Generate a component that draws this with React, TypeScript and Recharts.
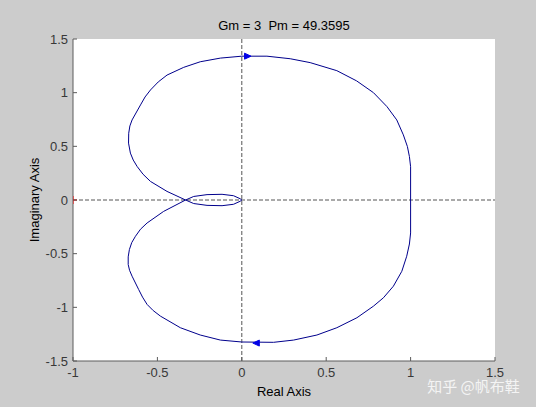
import React from 'react';
import { ComposedChart, Line, Scatter, XAxis, YAxis, ReferenceLine, CartesianGrid } from 'recharts';

// Nyquist path (real / imaginary parts) in drawing order
const pathX = [
  0, -0.01, -0.049, -0.117, -0.206, -0.285, -0.333,
  -0.443, -0.541, -0.585, -0.62, -0.643, -0.66, -0.671, -0.67, -0.663, -0.65, -0.6, -0.573, -0.541, -0.495, -0.443, -0.344, -0.246, -0.127,
  0, 0.149, 0.287, 0.405, 0.563, 0.68, 0.78, 0.86, 0.918, 0.957, 0.981, 0.993, 1.0, 1.0,
  1.0, 0.993, 0.977, 0.948, 0.898, 0.839, 0.78, 0.682, 0.563, 0.445, 0.307, 0.188, 0,
  -0.127, -0.246, -0.364, -0.482, -0.525, -0.561, -0.588, -0.611, -0.65, -0.665, -0.673, -0.673, -0.666, -0.652, -0.63, -0.6, -0.561, -0.463,
  -0.333, -0.285, -0.206, -0.117, -0.049, -0.01, 0,
];
const pathY = [
  0, -0.012, -0.04, -0.053, -0.05, -0.033, 0,
  0.08, 0.173, 0.24, 0.312, 0.372, 0.437, 0.53, 0.622, 0.69, 0.746, 0.886, 0.96, 1.025, 1.1, 1.164, 1.236, 1.288, 1.322,
  1.34, 1.34, 1.316, 1.28, 1.205, 1.11, 1.0, 0.87, 0.746, 0.607, 0.498, 0.405, 0.31, 0,
  -0.307, -0.41, -0.524, -0.664, -0.803, -0.911, -0.989, -1.097, -1.19, -1.258, -1.305, -1.326, -1.323,
  -1.305, -1.258, -1.19, -1.082, -1.03, -0.973, -0.905, -0.834, -0.71, -0.655, -0.601, -0.53, -0.462, -0.397, -0.338, -0.272, -0.214, -0.106,
  0, 0.033, 0.05, 0.053, 0.04, 0.012, 0,
];

const xTicks = [-1, -0.5, 0, 0.5, 1, 1.5];
const yTicks = [-1.5, -1, -0.5, 0, 0.5, 1, 1.5];
const arrowRight = [{ x: 0.034, y: 1.34 }];
const arrowLeft = [{ x: 0.086, y: -1.333 }];
const criticalPoint = [{ x: -1, y: 0 }];
const titleText = 'Gm = 3  Pm = 49.3595';
const xLabel = 'Real Axis';
const yLabel = 'Imaginary Axis';
const watermark = '知乎 @帆布鞋';

const data = pathX.map((x, i) => ({ x, y: pathY[i] }));

const W = 536;
const H = 407;
const FONT = '"Liberation Sans", Arial, sans-serif';
const AXIS = '#5c5c5c';
const TICKTXT = '#383838';
const LINE = '#00008c';
const ARROW = '#0000e6';
const TL = 4;

const fmt = (v: number) => String(v);

const BottomTick = (p: any) => (
  <g>
    <line x1={p.x} y1={p.y} x2={p.x} y2={p.y - TL} stroke={AXIS} />
    <text x={p.x} y={p.y + 15.5} textAnchor="middle" fontSize={13} fill={TICKTXT} fontFamily={FONT}>
      {fmt(p.payload.value)}
    </text>
  </g>
);
const TopTick = (p: any) => (
  <line x1={p.x} y1={p.y} x2={p.x} y2={p.y + TL} stroke={AXIS} />
);
const LeftTick = (p: any) => (
  <g>
    <line x1={p.x} y1={p.y} x2={p.x + TL} y2={p.y} stroke={AXIS} />
    <text x={p.x - 5} y={p.y + 4.5} textAnchor="end" fontSize={13} fill={TICKTXT} fontFamily={FONT}>
      {fmt(p.payload.value)}
    </text>
  </g>
);
const RightTick = (p: any) => (
  <line x1={p.x} y1={p.y} x2={p.x - TL} y2={p.y} stroke={AXIS} />
);

const RightArrow = (p: any) => (
  <polygon points={`${p.cx - 3},${p.cy - 3} ${p.cx + 3.5},${p.cy} ${p.cx - 3},${p.cy + 3}`} fill={ARROW} stroke={ARROW} />
);
const LeftArrow = (p: any) => (
  <polygon points={`${p.cx + 3},${p.cy - 3} ${p.cx - 3.5},${p.cy} ${p.cx + 3},${p.cy + 3}`} fill={ARROW} stroke={ARROW} />
);
const RedPlus = (p: any) => (
  <g stroke="#ff0000" strokeWidth={1}>
    <line x1={p.cx - 4} y1={p.cy} x2={p.cx + 4} y2={p.cy} />
    <line x1={p.cx} y1={p.cy - 4} x2={p.cx} y2={p.cy + 4} />
  </g>
);

export default function App() {
  return (
    <div style={{ position: 'absolute', left: 0, top: 0, width: W, height: H, background: '#cccccc' }}>
      <ComposedChart width={W} height={H} data={data} margin={{ top: 39, right: 41, bottom: 0, left: 0 }}>
        <CartesianGrid fill="#ffffff" stroke="none" horizontal={false} vertical={false} />
        <XAxis
          dataKey="x"
          type="number"
          domain={[-1, 1.5]}
          ticks={xTicks}
          interval={0}
          allowDataOverflow
          height={46}
          tickSize={0}
          tickMargin={0}
          tickLine={false}
          tick={<BottomTick />}
          axisLine={{ stroke: AXIS }}
        />
        <XAxis
          xAxisId="top"
          orientation="top"
          type="number"
          domain={[-1, 1.5]}
          ticks={xTicks}
          interval={0}
          allowDataOverflow
          height={0}
          tickSize={0}
          tickMargin={0}
          tickLine={false}
          tick={<TopTick />}
          axisLine={{ stroke: AXIS }}
        />
        <YAxis
          dataKey="y"
          type="number"
          domain={[-1.5, 1.5]}
          ticks={yTicks}
          interval={0}
          allowDataOverflow
          width={73}
          tickSize={0}
          tickMargin={0}
          tickLine={false}
          tick={<LeftTick />}
          axisLine={{ stroke: AXIS }}
        />
        <YAxis
          yAxisId="right"
          orientation="right"
          type="number"
          domain={[-1.5, 1.5]}
          ticks={yTicks}
          interval={0}
          allowDataOverflow
          width={0}
          tickSize={0}
          tickMargin={0}
          tickLine={false}
          tick={<RightTick />}
          axisLine={{ stroke: AXIS }}
        />
        <ReferenceLine x={0} stroke="#555555" strokeDasharray="4 2" />
        <ReferenceLine y={0} stroke="#555555" strokeDasharray="4 2" />
        <Line dataKey="y" type="linear" stroke={LINE} strokeWidth={1} dot={false} activeDot={false} isAnimationActive={false} />
        <Scatter data={arrowRight} dataKey="y" shape={<RightArrow />} isAnimationActive={false} />
        <Scatter data={arrowLeft} dataKey="y" shape={<LeftArrow />} isAnimationActive={false} />
        <Scatter data={criticalPoint} dataKey="y" shape={<RedPlus />} isAnimationActive={false} />
      </ComposedChart>
      <svg width={W} height={H} style={{ position: 'absolute', left: 0, top: 0, pointerEvents: 'none' }}>
        <text x={284} y={30} textAnchor="middle" fontSize={13} fontFamily={FONT} fill="#000" style={{ whiteSpace: 'pre' }}>
          {titleText}
        </text>
        <text x={284} y={396} textAnchor="middle" fontSize={13} fontFamily={FONT} fill="#000">
          {xLabel}
        </text>
        <text x={38.5} y={200} transform="rotate(-90 38.5 200)" textAnchor="middle" fontSize={13} fontFamily={FONT} fill="#000">
          {yLabel}
        </text>
        <text x={473.5} y={392} textAnchor="middle" fontSize={15} fontFamily='"Noto Sans CJK SC", sans-serif' fill="#f4f4f4">
          {watermark}
        </text>
      </svg>
    </div>
  );
}
